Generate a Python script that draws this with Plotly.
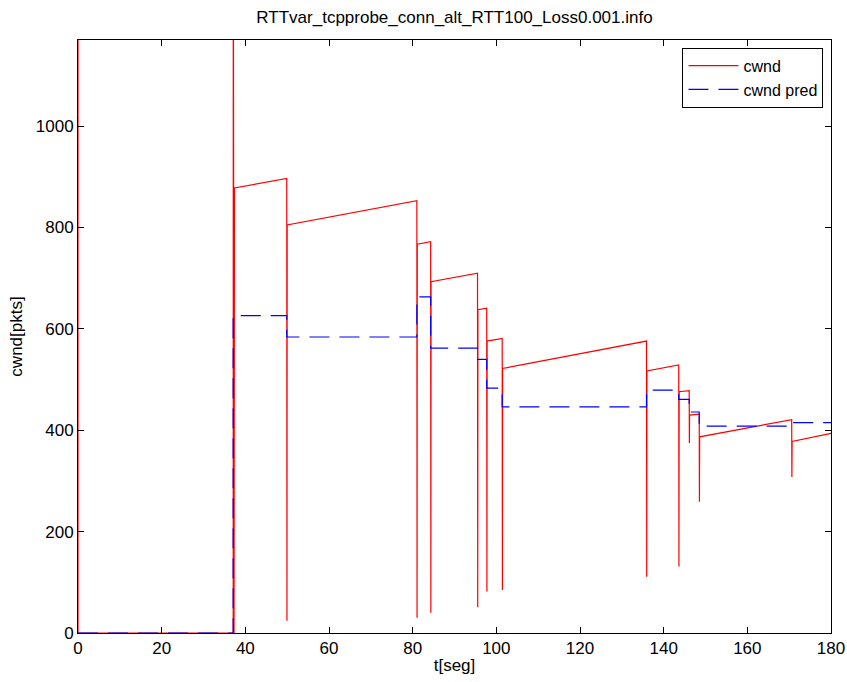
import plotly.graph_objects as go

# cwnd samples (time in s, cwnd in packets)
cwnd_t = [0, 0, 37.1, 37.12, 37.2, 37.3, 37.4,
          49.9, 49.95, 50.0,
          81.0, 81.05, 81.1,
          84.3, 84.35, 84.4,
          95.5, 95.55, 95.6,
          97.7, 97.75, 97.8,
          101.4, 101.45, 101.5,
          135.9, 135.95, 136.0,
          143.6, 143.65, 143.7,
          146.1, 146.15, 146.2,
          148.5, 148.55, 148.6,
          170.6, 170.65, 170.7,
          180]
cwnd_v = [1500, 0, 0, 1500, 878, 0, 878,
          897, 24, 805,
          853, 30, 767,
          772, 40, 693,
          710, 51, 638,
          641, 82, 576,
          581, 85, 522,
          576, 111, 517,
          529, 131, 476,
          478, 375, 430,
          432, 259, 387,
          421, 308, 378,
          394]

# predicted cwnd (step changes)
pred_t = [0, 37.1, 49.9, 81.0, 84.3, 95.5, 97.7, 101.4, 135.9, 143.6, 146.1, 148.5, 170.6, 180]
pred_v = [0, 626, 584, 663, 562, 540, 483, 446, 479, 461, 436, 408, 415, 415]

x_ticks = [0, 20, 40, 60, 80, 100, 120, 140, 160, 180]
y_ticks = [0, 200, 400, 600, 800, 1000]

FS = 17
W, H = 847, 682

fig = go.Figure()
fig.add_trace(go.Scatter(x=cwnd_t, y=cwnd_v, mode="lines", name="cwnd",
                         line=dict(color="#ff0000", width=1.2)))
fig.add_trace(go.Scatter(x=pred_t, y=pred_v, mode="lines", name="cwnd pred",
                         line=dict(color="#0000ff", width=1.2, dash="20px,10px", shape="hv")))

axis_common = dict(showgrid=False, zeroline=False, showline=True, linecolor="black",
                   linewidth=1, mirror="ticks", ticks="inside", ticklen=6,
                   tickcolor="black", tickfont=dict(size=FS, color="black"))

fig.update_layout(
    width=W, height=H,
    paper_bgcolor="white", plot_bgcolor="white",
    font=dict(family="Liberation Sans, Arial, sans-serif", color="black"),
    margin=dict(l=78, r=16, t=40, b=49, autoexpand=False),
    title=dict(text="RTTvar_tcpprobe_conn_alt_RTT100_Loss0.001.info",
               xref="paper", x=0.5, xanchor="center", y=1 - 17 / H, yanchor="middle",
               font=dict(size=FS)),
    xaxis=dict(range=[0, 180], tickvals=x_ticks,
               title=dict(text="t[seg]", font=dict(size=FS), standoff=1), **axis_common),
    yaxis=dict(range=[0, 1170], tickvals=y_ticks,
               title=dict(text="cwnd[pkts]", font=dict(size=FS), standoff=8), **axis_common),
    showlegend=True,
    legend=dict(x=0.99, y=0.987, xanchor="right", yanchor="top",
                bordercolor="black", borderwidth=1, bgcolor="white",
                font=dict(size=16), tracegroupgap=0, itemwidth=50),
)

fig.write_html("out.html",
               config={"displayModeBar": False},
               post_script="document.body.style.margin='0';document.body.style.overflow='hidden';")
